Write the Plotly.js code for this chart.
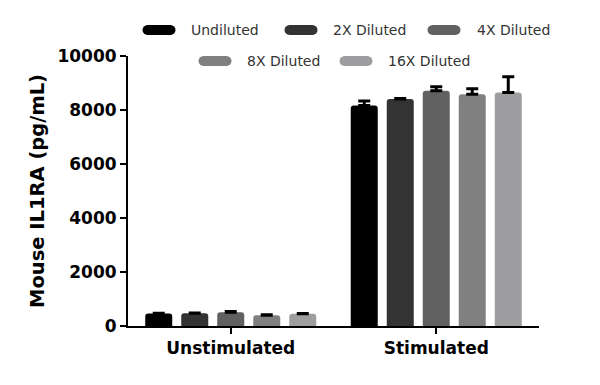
<!DOCTYPE html>
<html>
<head>
<meta charset="utf-8">
<script src="https://cdn.plot.ly/plotly-3.0.1.min.js"></script>
<style>html,body{margin:0;padding:0;background:#fff;}#chart{width:600px;height:385px;}</style>
</head>
<body>
<div id="chart"></div>
<script>
// ---- data ----
var categories = ['Unstimulated', 'Stimulated'];
var seriesNames = ['Undiluted', '2X Diluted', '4X Diluted', '8X Diluted', '16X Diluted'];
var undiluted = [460, 8170];
var diluted2x = [470, 8410];
var diluted4x = [510, 8715];
var diluted8x = [400, 8585];
var diluted16x = [450, 8645];
var errUndiluted = [15, 160];
var err2x = [15, 20];
var err4x = [25, 150];
var err8x = [15, 200];
var err16x = [15, 590];
var yTicks = [0, 2000, 4000, 6000, 8000, 10000];

// ---- styling ----
var colors = ['#000000', '#333333', '#616161', '#808080', '#9e9ea0'];
var values = [undiluted, diluted2x, diluted4x, diluted8x, diluted16x];
var errs = [errUndiluted, err2x, err4x, err8x, err16x];
var font = '"DejaVu Sans", sans-serif';

var traces = seriesNames.map(function (n, i) {
  return {
    type: 'bar', name: n, x: categories, y: values[i],
    marker: {color: colors[i], cornerradius: 3, line: {width: 0}},
    error_y: {type: 'data', symmetric: false, array: errs[i],
              arrayminus: errs[i].map(function () { return 0; }),
              color: '#000', thickness: 3, width: 6},
    showlegend: false
  };
});

// custom legend (pixel layout)
var L = 128, T = 56, W = 411, H = 270;
var legendPos = [
  {sx: 159, sy: 30, tx: 189},
  {sx: 301, sy: 30, tx: 331},
  {sx: 444, sy: 30, tx: 475},
  {sx: 215, sy: 61, tx: 245},
  {sx: 356, sy: 61, tx: 386}
];
function px2x(p) { return (p - L) / W; }
function px2y(p) { return (T + H - p) / H; }
function pillPath(halfLen, r) {
  var pts = [], k, a;
  for (k = 0; k <= 8; k++) { a = -Math.PI / 2 + Math.PI * k / 8; pts.push([halfLen + r * Math.cos(a), r * Math.sin(a)]); }
  for (k = 0; k <= 8; k++) { a = Math.PI / 2 + Math.PI * k / 8; pts.push([-halfLen + r * Math.cos(a), r * Math.sin(a)]); }
  return 'M' + pts.map(function (p) { return p[0].toFixed(2) + ',' + p[1].toFixed(2); }).join('L') + 'Z';
}
var pill = pillPath(11.5, 5);
var shapes = [], annotations = [];
seriesNames.forEach(function (n, i) {
  var p = legendPos[i];
  shapes.push({
    type: 'path', xref: 'paper', yref: 'paper',
    xsizemode: 'pixel', ysizemode: 'pixel',
    xanchor: px2x(p.sx), yanchor: px2y(p.sy),
    path: pill, fillcolor: colors[i], line: {width: 0}
  });
  annotations.push({
    xref: 'paper', yref: 'paper', x: px2x(p.tx), y: px2y(p.sy),
    xanchor: 'left', yanchor: 'middle', showarrow: false,
    text: n, font: {family: font, size: 14, color: '#333'}
  });
});

var layout = {
  width: 600, height: 385,
  margin: {l: L, r: 600 - L - W, t: T, b: 385 - T - H, pad: 0},
  paper_bgcolor: '#fff', plot_bgcolor: '#fff',
  barmode: 'group', bargap: 0.124, bargroupgap: 0.25,
  showlegend: false,
  xaxis: {
    type: 'category', range: [-0.5, 1.5],
    showline: true, linecolor: '#000', linewidth: 2,
    ticks: 'outside', ticklen: 6, tickwidth: 2, tickcolor: '#000',
    showgrid: false, zeroline: false,
    tickfont: {family: font, size: 17, color: '#000', weight: 700}
  },
  yaxis: {
    range: [0, 10000], tickvals: yTicks, ticktext: yTicks.map(String),
    showline: true, linecolor: '#000', linewidth: 2,
    ticks: 'outside', ticklen: 6, tickwidth: 2, tickcolor: '#000',
    showgrid: false, zeroline: false,
    tickfont: {family: font, size: 17, color: '#000', weight: 700},
    title: {text: 'Mouse IL1RA (pg/mL)', standoff: 8,
            font: {family: font, size: 19.5, color: '#000', weight: 700}}
  },
  shapes: shapes,
  annotations: annotations
};

Plotly.newPlot('chart', traces, layout, {displayModeBar: false, staticPlot: true});
</script>
</body>
</html>
